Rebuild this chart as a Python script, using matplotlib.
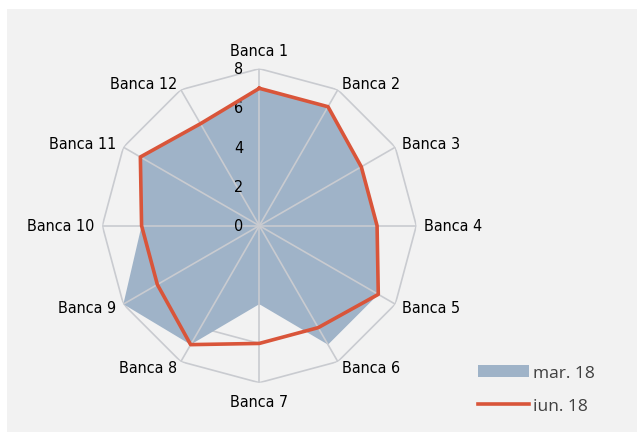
import numpy as np
import matplotlib.pyplot as plt
from matplotlib import font_manager
from matplotlib.patches import Rectangle

banks = ['Banca %d' % i for i in range(1, 13)]
mar18 = [7, 7, 6, 6, 7, 7, 4, 7, 8, 6, 7, 6]
iun18 = [7, 7, 6, 6, 7, 6, 6, 7, 6, 6, 7, 6]
ticks = [0, 2, 4, 6, 8]

blue = '#9fb3c8'
red = '#d9553a'
grid = '#c9cbd0'

# narrow font for the category labels, if one is around
fonts = font_manager.fontManager.ttflist
names = {f.name for f in fonts}
condensed = [f for f in fonts if f.name == 'DejaVu Sans' and f.stretch == 'condensed']
if 'Liberation Sans Narrow' in names:
    lab = dict(family='Liberation Sans Narrow', fontsize=12.5)
elif condensed:
    lab = dict(family='DejaVu Sans', fontstretch='condensed', fontsize=11.5)
else:
    lab = dict(family='Roboto Condensed' if 'Roboto Condensed' in names else 'Roboto', fontsize=12)

fig = plt.figure(figsize=(6.37, 4.35), dpi=100)
fig.patch.set_facecolor('white')
bg = Rectangle((7 / 637, 2 / 435), 1, 423 / 435, transform=fig.transFigure,
               facecolor='#f2f2f2', edgecolor='none', zorder=-10)
fig.add_artist(bg)

ax = fig.add_axes([0.1606, 0.1180, 0.4930, 0.7218], projection='polar')
ax.set_theta_zero_location('N')
ax.set_theta_direction(-1)
ax.set_ylim(0, 8)
ax.patch.set_visible(False)
ax.grid(False)
ax.spines['polar'].set_visible(False)
ax.set_xticks([])
ax.set_yticks([])

angles = np.arange(len(banks)) * 2 * np.pi / len(banks)
closed = np.append(angles, angles[0])

# rings sit under the fill, spokes on top of it
for r in ticks[1:]:
    ax.plot(closed, [r] * len(closed), color=grid, lw=1.2, zorder=1)
for t in angles:
    ax.plot([t, t], [0, ticks[-1]], color=grid, lw=1.2, zorder=3)

ax.fill(closed, mar18 + mar18[:1], color=blue, lw=0, zorder=2, label='mar. 18')
ax.plot(closed, iun18 + iun18[:1], color=red, lw=2.6, zorder=4, label='iun. 18')

for r in ticks:
    ax.annotate(str(r), (0, r), xytext=(-15, 0), textcoords='offset points',
                ha='center', va='center', color='black', **lab)

for t, name in zip(angles, banks):
    s, c = np.sin(t), np.cos(t)
    if abs(s) < 1e-6:
        ha = 'center'
        va = 'bottom' if c > 0 else 'top'
        off = (0, 8 * np.sign(c))
    else:
        ha = 'left' if s > 0 else 'right'
        va = 'center'
        off = (5.8 * s, 5 * c)
    ax.annotate(name, (t, ticks[-1]), xytext=off, textcoords='offset points',
                ha=ha, va=va, color='black', **lab)

fig.legend(loc='upper left', bbox_to_anchor=(462 / 637, 1 - 350 / 435), frameon=False,
           prop={'family': 'Open Sans', 'size': 12.5}, labelcolor='#404040',
           handlelength=2.95, handleheight=0.7, handletextpad=0.25, labelspacing=1.0)

fig.savefig('out.png', dpi=100)
